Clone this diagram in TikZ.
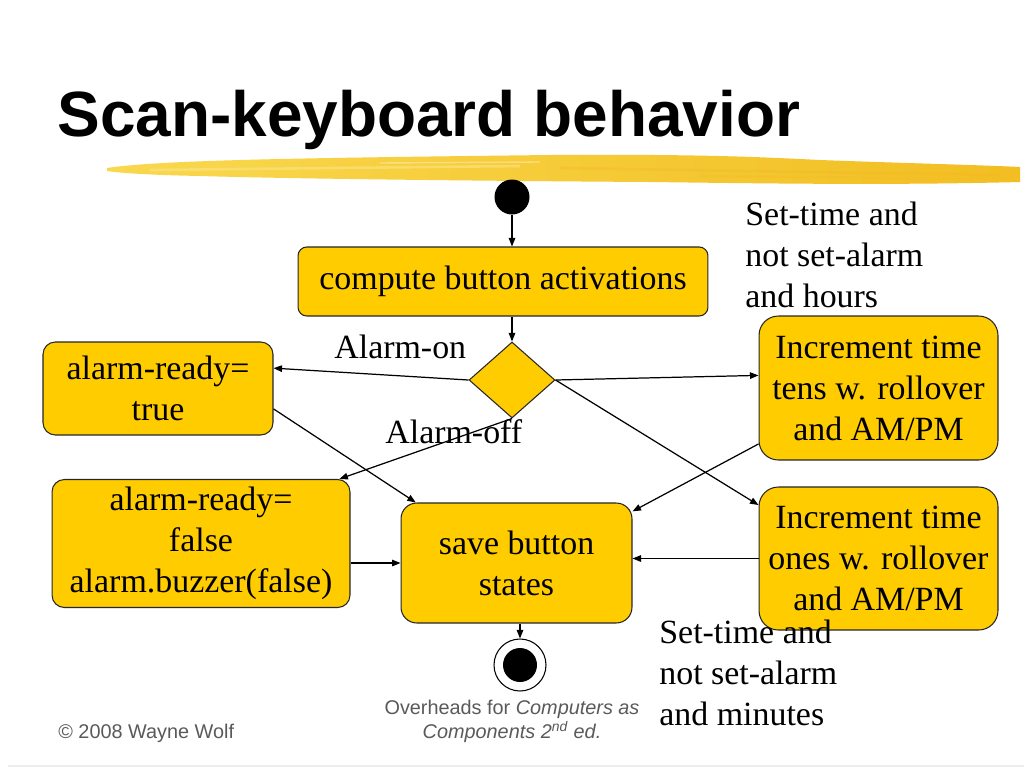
\documentclass[tikz,border=0pt]{standalone}
\usepackage{fontspec}
\setmainfont{Liberation Serif}
\newfontfamily\arialfont{Liberation Sans}
\usetikzlibrary{shapes.geometric, arrows.meta, calc}

\definecolor{boxyellow}{HTML}{FFCC00}
\definecolor{brushlight}{HTML}{F9D84E}
\definecolor{brushdark}{HTML}{F2BE22}
\definecolor{footgray}{HTML}{5A5A5A}

\begin{document}
\begin{tikzpicture}[x=0.02cm, y=-0.02cm,
		state/.style={draw=black!85, line width=0.6pt, fill=boxyellow, rounded corners=7pt,
			align=center, inner sep=2pt, font=\fontsize{19.3}{23.3}\selectfont},
		flow/.style={-{Triangle[length=1.7mm, width=1.3mm]}, line width=0.7pt},
		guard/.style={font=\fontsize{19.3}{23.3}\selectfont, inner sep=0pt},
		foot/.style={font=\arialfont\fontsize{11.3}{13.5}\selectfont, text=footgray, inner sep=0pt}]
		% Slide frame
		\useasboundingbox (0,0) rectangle (1024,768);
		\fill[white] (0,0) rectangle (1024,768);
		
		% 1. Title with the brush stroke under it
		\shade[left color=brushlight, right color=brushdark]
		(107,168) .. controls (160,160) and (300,158) .. (550,155)
		.. controls (700,154) and (760,157) .. (820,160)
		.. controls (900,163) and (980,165) .. (1020,167) -- (1020,182)
		.. controls (900,185) and (800,184) .. (650,182)
		.. controls (500,181) and (300,179) .. (200,176)
		.. controls (150,175) and (120,173) .. (107,171) -- cycle;
		% brush texture
		\draw[brushdark!90!orange, line width=1.5pt, opacity=0.35] (560,168) -- (1000,175);
		\draw[brushdark, line width=1.2pt, opacity=0.4] (700,176) -- (990,179);
		\draw[white, line width=0.8pt, opacity=0.35] (380,163) -- (540,162);
		\draw[brushlight!70!white, line width=1.5pt, opacity=0.6] (150,170) -- (520,166);
		\node[anchor=base west, inner sep=0pt, font=\arialfont\bfseries\fontsize{36.4}{40}\selectfont]
		(title) at (57,136) {Scan-keyboard behavior};
		
		% 2. Activity nodes
		\node[circle, fill=black, minimum size=0.7cm, inner sep=0pt] (start) at (512,197) {};
		\node[state, rounded corners=5pt, minimum width=8.2cm, minimum height=1.38cm]
		(compute) at (503,281.5) {compute button activations};
		\node[diamond, draw=black!85, line width=0.6pt, fill=boxyellow, minimum width=1.72cm,
		minimum height=1.52cm, inner sep=0pt] (alarm) at (512,380) {};
		\node[state, minimum width=4.6cm, minimum height=1.86cm] (atrue) at (158,388.5) {alarm-ready=\\true};
		\node[state, minimum width=5.96cm, minimum height=2.56cm] (afalse) at (201,543.5)
		{alarm-ready=\\false\\alarm.buzzer(false)};
		\node[state, rounded corners=9pt, minimum width=4.62cm, minimum height=2.4cm] (save) at (516.5,563)
		{save button\\states};
		\node[state, rounded corners=11pt, minimum width=4.78cm, minimum height=2.88cm] (ttens) at (878.5,388)
		{Increment time\\tens w. rollover\\and AM/PM};
		\node[state, rounded corners=11pt, minimum width=4.78cm, minimum height=2.86cm] (tones) at (878.5,558.5)
		{Increment time\\ones w. rollover\\and AM/PM};
		\node[circle, draw, line width=0.6pt, minimum size=1.04cm, inner sep=0pt] (finish) at (520,665) {};
		\fill (finish) circle (0.34cm);
		
		% 3. Guards
		\node[guard, anchor=base west] (onlbl) at (334,358) {Alarm-on};
		\node[guard, anchor=base west] (offlbl) at (385,443) {Alarm-off};
		\node[guard, anchor=north west, align=left] (hourslbl) at (745,202)
		{Set-time and\\not set-alarm\\and hours};
		\node[guard, anchor=north west, align=left] (minslbl) at (659,620)
		{Set-time and\\not set-alarm\\and minutes};
		
		% 4. Transitions
		\draw[flow] (start) -- (start |- compute.north);
		\draw[flow] (alarm.north |- compute.south) -- (alarm.north);
		\draw[flow] (alarm.west) -- (atrue.10);
		\draw[flow] (alarm.south) -- (afalse.25);
		\draw[flow] (alarm.east) -- (ttens.174);
		\draw[flow] (alarm.east) -- (tones.156);
		\draw[flow] (atrue.-10) -- (save.149);
		\draw[flow] (ttens.205) -- (save.24);
		\draw[flow] (afalse.east |- save.west) -- (save.west);
		\draw[flow] (tones.west) -- (tones.west -| save.east);
		\draw[flow] (finish |- save.south) -- (finish.north);
		
		% 5. Footer
		\node[foot, align=center, anchor=north] (credit) at (512,700)
		{Overheads for \textit{Computers as}\\\textit{Components 2\textsuperscript{nd} ed.}};
		\node[foot, anchor=base west] (copyright) at (58,738) {© 2008 Wayne Wolf};
		\draw[gray!15, line width=0.8pt] (8,766) -- (1024,766);
		
	\end{tikzpicture}
\end{document}
